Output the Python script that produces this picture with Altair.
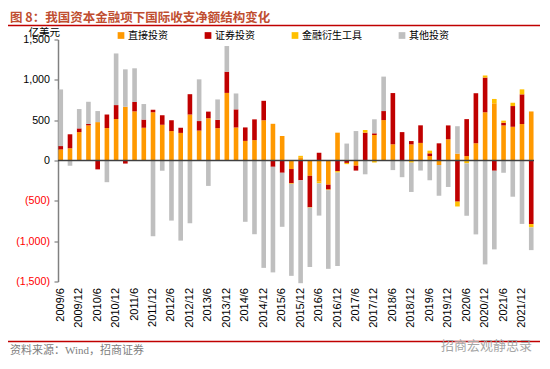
import altair as alt
import pandas as pd

# Quarter-end categories (2009Q2 .. 2022Q1)
quarters = [
    "2009/6", "2009/9", "2009/12",
    "2010/3", "2010/6", "2010/9", "2010/12",
    "2011/3", "2011/6", "2011/9", "2011/12",
    "2012/3", "2012/6", "2012/9", "2012/12",
    "2013/3", "2013/6", "2013/9", "2013/12",
    "2014/3", "2014/6", "2014/9", "2014/12",
    "2015/3", "2015/6", "2015/9", "2015/12",
    "2016/3", "2016/6", "2016/9", "2016/12",
    "2017/3", "2017/6", "2017/9", "2017/12",
    "2018/3", "2018/6", "2018/9", "2018/12",
    "2019/3", "2019/6", "2019/9", "2019/12",
    "2020/3", "2020/6", "2020/9", "2020/12",
    "2021/3", "2021/6", "2021/9", "2021/12",
    "2022/3",
]
tick_labels = [q for q in quarters if q.endswith("/6") or q.endswith("/12")]

# 亿美元
fdi = [137, 152, 352, 436, 476, 402, 514, 666, 609, 406, 598, 443, 365, 342, 570,
       371, 524, 401, 838, 409, 243, 253, 499, 455, 304, -106, 40, -190, -263, -300,
       345, 10, -65, 5, 316, 501, 201, 5, 200, 218, 56, -56, 263, 85, 55, 214, 598,
       709, 435, 418, 452, 608]
portfolio = [42, 173, 46, 17, -110, 168, 173, -38, 116, 101, 31, 118, 134, 64, 252,
             118, 82, 103, 263, 225, 167, 257, 241, -78, -152, -176, -245, -390, 96, -60,
             -132, -30, -60, 340, 21, 112, 635, 347, 41, 218, 33, 213, 172, -510, 458, 620, 430,
             -127, 33, 257, 368, -788]
derivative = [0, 0, 0, 0, 0, 0, 0, 0, 0, 0, 0, 0, 0, 0, 0,
              0, 0, 0, 0, 0, 0, 0, 0, 0, 0, -8, 18, -5, -20, -8,
              -18, -15, 0, 33, -25, 0, 0, 0, -27, 0, 33, 0, 0, -60, -35, 0, 26,
              54, 26, 41, 62, -41]
other = [702, -65, 240, 275, 137, -269, 640, 464, 418, 193, -939, -127, -745, -993, -778,
         517, -315, 253, 318, 197, -760, -914, -1331, -1309, -670, -1140, -1276, -735, -400, -975,
         -1158, 200, 365, -171, 174, 427, -119, -207, -363, -125, -245, -381, -328, 340, -650, -916, -1288,
         -975, -152, -449, -786, -282]

series_names = ["直接投资", "证券投资", "金融衍生工具", "其他投资"]
series_colors = ["#FF9900", "#C00000", "#FFC000", "#BFBFBF"]
series_values = [fdi, portfolio, derivative, other]

rows = []
for i, q in enumerate(quarters):
    for k, (name, vals) in enumerate(zip(series_names, series_values)):
        rows.append({"quarter": q, "series": name, "ord": k, "value": vals[i]})
df = pd.DataFrame(rows)

CJK = "Noto Sans CJK SC"
LAT = "Liberation Sans"

bars = alt.Chart(df).mark_bar().encode(
    x=alt.X(
        "quarter:O",
        sort=quarters,
        scale=alt.Scale(paddingInner=0.5, paddingOuter=0.05),
        axis=alt.Axis(
            values=tick_labels, labelAngle=270, domain=False, ticks=False, tickSize=0,
            labelPadding=6, labelFont=LAT, labelFontSize=11, labelColor="#000000",
            title=None, grid=False,
        ),
    ),
    y=alt.Y(
        "value:Q",
        stack="zero",
        scale=alt.Scale(domain=[-1500, 1500], nice=False, zero=True),
        axis=alt.Axis(
            values=[-1500, -1000, -500, 0, 500, 1000, 1500],
            labelExpr="datum.value < 0 ? '(' + format(-datum.value, ',') + ')' : format(datum.value, ',') + '\u2008'",
            labelColor={"condition": {"test": "datum.value < 0", "value": "#FF0000"}, "value": "#000000"},
            labelFont=LAT, labelFontSize=10.7, labelPadding=4.5,
            grid=False, domainColor="#808080", domainWidth=1.5,
            tickColor="#808080", tickSize=4, tickWidth=1.2,
            title="亿美元", titleAngle=0, titleX=-30, titleY=-4, titleAlign="left",
            titleBaseline="alphabetic", titleFont=CJK, titleFontSize=10.5,
            titleFontWeight="normal", titleColor="#000000",
        ),
    ),
    color=alt.Color(
        "series:N",
        scale=alt.Scale(domain=series_names, range=series_colors),
        legend=alt.Legend(
            orient="none", legendX=58, legendY=-9, direction="horizontal", columns=4,
            columnPadding=35, labelOffset=2, symbolType="square", symbolSize=45,
            symbolStrokeWidth=0, labelFont=CJK, labelFontSize=10, labelColor="#000000",
            title=None, padding=0,
        ),
    ),
    order=alt.Order("ord:Q", sort="ascending"),
)

zero_line = alt.Chart(pd.DataFrame({"z": [0]})).mark_rule(
    color="#404040", strokeWidth=1.5
).encode(y=alt.datum(0))

title_df = pd.DataFrame({"t": ["图 8：我国资本金融项下国际收支净额结构变化"]})
title_txt = alt.Chart(title_df).mark_text(
    align="left", baseline="middle", font=CJK, fontSize=12.5, fontWeight="bold",
    color="#BF4E30",
).encode(text="t:N", x=alt.value(-48), y=alt.value(-22))

top_rule = alt.Chart(title_df).mark_rule(color="#C00000", strokeWidth=1.5).encode(
    x=alt.value(-50), x2=alt.value(487), y=alt.value(-14)
)
bottom_rule = alt.Chart(title_df).mark_rule(color="#C00000", strokeWidth=1.5).encode(
    x=alt.value(-50), x2=alt.value(487), y=alt.value(302)
)

src_df = pd.DataFrame({"t": ["资料来源：Wind，招商证券"]})
src_txt = alt.Chart(src_df).mark_text(
    align="left", baseline="middle", font="Liberation Serif, Noto Sans CJK SC",
    fontSize=11, color="#808080",
).encode(text="t:N", x=alt.value(-48), y=alt.value(311.5))

wm_df = pd.DataFrame({"t": ["招商宏观静思录"]})
wm_txt = alt.Chart(wm_df).mark_text(
    align="right", baseline="middle", font=CJK, fontSize=13, color="#A6A6A6",
).encode(text="t:N", x=alt.value(474), y=alt.value(306.5))

chart = alt.layer(
    bars, zero_line, title_txt, top_rule, bottom_rule, src_txt, wm_txt
).properties(
    width=476,
    height=242,
    padding={"left": 50, "top": 31.5, "right": 6, "bottom": 74},
    autosize=alt.AutoSizeParams(type="none"),
    background="#FFFFFF",
).configure_view(strokeWidth=0)

chart.save("out.html", embed_options={"renderer": "svg", "actions": False})
